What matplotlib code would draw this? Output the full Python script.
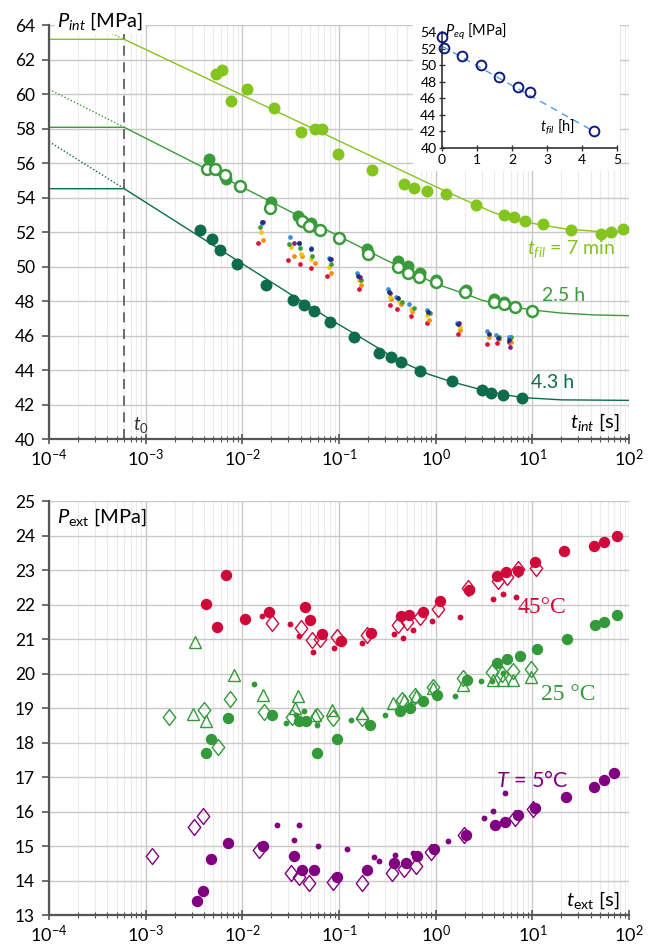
import matplotlib
matplotlib.use("Agg")
import matplotlib.pyplot as plt
from matplotlib.patches import Rectangle
from matplotlib.path import Path
from matplotlib.ticker import LogLocator, NullFormatter, MultipleLocator

plt.rcParams['font.family'] = ['Lato', 'DejaVu Sans']
plt.rcParams['mathtext.fontset'] = 'custom'
plt.rcParams['mathtext.rm'] = 'Lato'
plt.rcParams['mathtext.it'] = 'Lato:italic'
plt.rcParams['mathtext.bf'] = 'Lato:bold'

# ---------------- upper panel: P_int vs t_int ----------------
T0 = 6.0e-4

# model curves (plateau before t0, then decay towards P_eq)
curve_7min_t = [1e-4, T0, 1.0, 2.0, 4.0, 7.0, 12.0, 22.0, 45.0, 100.0]
curve_7min_p = [63.17, 63.17, 54.63, 53.86, 53.12, 52.68, 52.42, 52.18, 52.04, 52.0]
curve_25h_t = [1e-4, T0, 0.3, 1.0, 2.0, 3.0, 5.0, 10.0, 20.0, 45.0, 100.0]
curve_25h_p = [58.07, 58.07, 50.4, 49.0, 48.42, 48.05, 47.75, 47.48, 47.3, 47.19, 47.15]
curve_43h_t = [1e-4, T0, 0.08, 0.15, 0.4, 0.85, 1.5, 3.0, 5.0, 8.0, 20.0, 100.0]
curve_43h_p = [54.51, 54.51, 46.95, 46.05, 44.6, 43.75, 43.3, 42.85, 42.58, 42.4, 42.27, 42.24]
# extrapolation of the initial slope back to 1e-4 s
extrap_p = [65.2, 60.27, 57.24]

g7_t = [0.0053, 0.0061, 0.0076, 0.01125, 0.0212, 0.0402, 0.0561, 0.0667, 0.0984, 0.217,
        0.475, 0.592, 0.813, 1.28, 2.61, 5.12, 6.41, 8.49, 12.8, 25.1, 50.9, 64.6, 86.1]
g7_p = [61.16, 61.39, 59.61, 60.27, 59.17, 57.81, 57.95, 57.95, 56.50, 55.62,
        54.78, 54.57, 54.38, 54.20, 53.57, 52.99, 52.87, 52.65, 52.45, 52.12, 51.88, 52.0, 52.16]

g25_t = [0.00449, 0.00682, 0.01963, 0.0381, 0.0509, 0.197, 0.410, 0.521, 0.681, 1.01, 2.04, 4.06, 5.09]
g25_p = [56.21, 55.07, 53.76, 52.93, 52.50, 51.00, 50.32, 50.03, 49.65, 49.22, 48.64, 48.09, 47.97]
g25_open_t = [0.00426, 0.00518, 0.00667, 0.00936, 0.01954, 0.0411, 0.049, 0.0635, 0.0995, 0.1986,
              0.41, 0.521, 0.678, 1.0, 2.02, 4.03, 5.05, 6.62, 10.0]
g25_open_p = [55.63, 55.63, 55.28, 54.65, 53.40, 52.64, 52.37, 52.09, 51.63, 50.74,
              49.97, 49.65, 49.37, 49.08, 48.50, 47.92, 47.81, 47.65, 47.43]

g43_t = [0.00369, 0.00491, 0.00583, 0.00871, 0.0175, 0.0334, 0.0435, 0.0547, 0.0802, 0.144,
         0.261, 0.345, 0.437, 0.689, 1.47, 2.99, 3.73, 5.01, 7.87]
g43_p = [52.10, 51.58, 50.94, 50.13, 48.94, 48.06, 47.74, 47.40, 46.80, 45.93,
         44.97, 44.78, 44.46, 43.94, 43.36, 42.84, 42.68, 42.55, 42.36]

# individual measurements (small dots)
dot_navy_t = [0.0160, 0.039, 0.0515, 0.080, 0.159, 0.33, 0.405, 0.83, 1.72, 3.56, 4.4, 5.75]
dot_navy_p = [52.56, 51.34, 51.0, 50.43, 49.45, 48.54, 48.19, 47.38, 46.67, 46.09, 45.87, 45.74]
dot_blue_t = [0.0158, 0.0309, 0.0385, 0.0512, 0.079, 0.155, 0.322, 0.393, 0.536, 0.81, 1.66, 3.38, 4.2, 5.78]
dot_blue_p = [52.52, 51.73, 51.38, 51.09, 50.49, 49.61, 48.67, 48.26, 47.81, 47.46, 46.75, 46.24, 46.03, 45.93]
dot_purple_t = [0.0165, 0.0344, 0.083, 0.163, 0.34, 1.75, 5.9]
dot_purple_p = [52.60, 51.38, 50.42, 49.41, 48.45, 46.71, 45.35]
dot_green_t = [0.0154, 0.0306, 0.0392, 0.053, 0.083, 0.17, 0.445, 0.597, 0.87, 4.5, 6.05]
dot_green_p = [52.27, 51.29, 51.07, 50.63, 50.16, 49.23, 47.96, 47.61, 47.30, 45.93, 45.90]
dot_yellow_t = [0.0155, 0.0318, 0.040, 0.0510, 0.079, 0.16, 0.335, 0.42, 0.555, 0.82, 1.78, 3.56, 5.9]
dot_yellow_p = [51.98, 51.13, 50.74, 50.45, 49.95, 49.22, 48.26, 47.99, 47.52, 47.21, 46.51, 46.01, 45.80]
dot_orange_t = [0.0163, 0.0345, 0.0417, 0.0565, 0.083, 0.169, 0.342, 0.44, 0.565, 0.86, 1.78, 3.56, 4.5, 5.95]
dot_orange_p = [51.54, 50.61, 50.61, 50.22, 49.62, 48.91, 48.10, 47.81, 47.42, 46.92, 46.32, 45.91, 45.80, 45.64]
dot_red_t = [0.0146, 0.0294, 0.0392, 0.0510, 0.0752, 0.162, 0.333, 0.396, 0.555, 0.82, 1.72, 3.40, 4.3, 5.8]
dot_red_p = [51.34, 50.39, 50.14, 49.93, 49.45, 48.70, 47.74, 47.52, 47.15, 46.75, 46.10, 45.52, 45.59, 45.64]

# inset: equilibrium pressure vs filling time
peq_t = [0.0, 0.06, 0.58, 1.11, 1.64, 2.17, 2.5, 4.34]
peq_p = [53.35, 52.06, 51.05, 50.05, 48.6, 47.4, 46.8, 42.0]
peq_fit_t = [0.0, 4.34]
peq_fit_p = [52.3, 42.0]

# ---------------- lower panel: P_ext vs t_ext ----------------
red_big_t = [0.00421, 0.00543, 0.00673, 0.01057, 0.0190, 0.0450, 0.0501, 0.0675, 0.105, 0.213, 0.438, 0.533,
             0.734, 1.11, 2.23, 4.34, 5.34, 7.16, 10.6, 21.4, 43.4, 55.5, 75.6]
red_big_p = [22.01, 21.36, 22.86, 21.58, 21.77, 21.92, 21.54, 21.14, 20.94, 21.18, 21.66, 21.71,
             21.79, 22.10, 22.43, 22.82, 22.94, 22.97, 23.23, 23.56, 23.70, 23.81, 24.00]
red_small_t = [0.01595, 0.0308, 0.0388, 0.0534, 0.0887, 0.174, 0.371, 0.456, 0.586, 0.910, 1.79, 3.89, 4.93, 6.73]
red_small_p = [21.66, 21.43, 21.08, 20.63, 20.73, 20.87, 21.14, 21.03, 21.26, 21.53, 21.64, 22.15, 22.29, 22.22]
red_dia_t = [0.0203, 0.0402, 0.053, 0.0636, 0.096, 0.196, 0.410, 0.501, 0.689, 1.06, 2.17, 4.38, 5.43, 7.06, 10.9]
red_dia_p = [21.47, 21.32, 20.98, 20.99, 21.06, 21.11, 21.42, 21.50, 21.64, 21.88, 22.49, 22.68, 22.80, 23.04, 23.07]

green_big_t = [0.00418, 0.00471, 0.00706, 0.0201, 0.0387, 0.0452, 0.0596, 0.0946, 0.209, 0.425, 0.542,
               0.734, 1.03, 2.09, 4.34, 5.43, 7.45, 11.1, 22.6, 44.5, 55.5, 75.6]
green_big_p = [17.70, 18.10, 18.70, 18.80, 18.63, 18.63, 17.70, 18.10, 18.51, 18.91, 19.01,
               19.21, 19.39, 19.81, 20.31, 20.41, 20.50, 20.71, 21.00, 21.40, 21.50, 21.70]
green_small_t = [0.0132, 0.0283, 0.0363, 0.0438, 0.0589, 0.1346, 0.299, 1.585, 2.94, 3.85, 5.01]
green_small_p = [19.69, 18.56, 18.80, 18.92, 18.51, 18.65, 18.80, 19.35, 19.79, 19.78, 20.02]
green_dia_t = [0.00175, 0.00406, 0.00564, 0.00745, 0.01663, 0.0327, 0.0592, 0.0873, 0.174, 0.445, 0.611,
               0.931, 1.905, 3.80, 4.82, 6.35, 9.68]
green_dia_p = [18.75, 18.93, 17.88, 19.25, 18.89, 18.75, 18.78, 18.70, 18.70, 19.23, 19.35,
               19.61, 19.86, 20.05, 20.00, 20.08, 20.12]
green_tri_t = [0.00307, 0.00324, 0.00418, 0.00815, 0.0165, 0.0347, 0.0379, 0.0571, 0.084, 0.173,
               0.359, 0.470, 0.627, 0.931, 1.93, 3.92, 4.93, 6.35, 9.68]
green_tri_p = [18.84, 20.91, 18.62, 19.95, 19.37, 18.99, 19.35, 18.80, 18.94, 18.86,
               19.15, 19.23, 19.35, 19.57, 19.66, 19.81, 19.81, 19.81, 19.90]

purple_big_t = [0.00337, 0.00389, 0.00469, 0.00706, 0.0165, 0.0342, 0.0411, 0.0553, 0.0953, 0.193, 0.372,
                0.49, 0.637, 0.968, 2.06, 4.11, 5.21, 7.06, 10.6, 22.1, 43.4, 55.1, 70.5]
purple_big_p = [13.41, 13.71, 14.61, 15.10, 15.00, 14.71, 14.31, 14.31, 14.11, 14.31, 14.52,
                14.52, 14.71, 14.91, 15.32, 15.61, 15.71, 15.90, 16.11, 16.41, 16.70, 16.91, 17.11]
purple_small_t = [0.0229, 0.0344, 0.0386, 0.0611, 0.121, 0.229, 0.259, 0.381, 0.578, 1.35, 3.14, 3.89, 5.21]
purple_small_p = [15.60, 15.16, 15.60, 15.00, 14.91, 14.68, 14.57, 14.73, 14.81, 15.15, 15.82, 16.02, 16.53]
purple_dia_t = [0.00117, 0.00316, 0.00389, 0.01496, 0.0318, 0.0387, 0.0493, 0.0861, 0.174, 0.352, 0.470,
                0.621, 0.895, 1.98, 6.61, 10.1]
purple_dia_p = [14.71, 15.55, 15.87, 14.87, 14.23, 14.09, 13.94, 13.97, 13.94, 14.21, 14.32,
                14.42, 14.84, 15.32, 15.80, 16.07]

C7 = '#84c41e'
C25 = '#3a9b3a'
C43 = '#0e6b4b'
RED = '#cf0a3a'
GRN = '#33993a'
PUR = '#800080'
AX = '#555555'

# open diamond a bit wider than matplotlib's 'd'
DIAMOND = Path([(0, 1), (0.78, 0), (0, -1), (-0.78, 0), (0, 1)],
               [Path.MOVETO, Path.LINETO, Path.LINETO, Path.LINETO, Path.CLOSEPOLY])


def style_axes(ax, ymin, ymax, ystep):
    ax.set_xscale('log')
    ax.set_xlim(1e-4, 1e2)
    ax.set_ylim(ymin, ymax)
    ax.yaxis.set_major_locator(MultipleLocator(ystep))
    ax.xaxis.set_major_locator(LogLocator(base=10, numticks=10))
    ax.xaxis.set_minor_locator(LogLocator(base=10, subs=range(2, 10), numticks=100))
    ax.xaxis.set_minor_formatter(NullFormatter())
    ax.grid(which='major', color='#c8c8c8', lw=1.0)
    ax.grid(which='minor', axis='x', color='#ebebeb', lw=0.8)
    ax.set_axisbelow(True)
    for s in ('top', 'right'):
        ax.spines[s].set_visible(False)
    for s in ('left', 'bottom'):
        ax.spines[s].set_color(AX)
        ax.spines[s].set_linewidth(1.6)
    ax.tick_params(axis='x', which='major', direction='inout', length=7, width=1.2,
                   color=AX, labelsize=13, pad=3)
    ax.tick_params(axis='x', which='minor', direction='inout', length=4, width=0.8, color=AX)
    ax.tick_params(axis='y', which='major', direction='out', length=5, width=1.2,
                   color=AX, labelsize=12.5, pad=5)


fig = plt.figure(figsize=(6.57, 9.5), dpi=100)

# ---- upper panel ----
ax1 = fig.add_axes([0.07458, 0.53789, 0.88280, 0.43579])
style_axes(ax1, 40, 64, 2)

for ct, cp, col, ext in [(curve_7min_t, curve_7min_p, C7, extrap_p[0]),
                         (curve_25h_t, curve_25h_p, C25, extrap_p[1]),
                         (curve_43h_t, curve_43h_p, C43, extrap_p[2])]:
    ax1.plot(ct, cp, color=col, lw=1.0, zorder=2)
    ax1.plot([1e-4, T0], [ext, cp[1]], color=col, lw=1.0, ls=(0, (1, 1.5)), zorder=2)

ax1.axvline(T0, color=AX, lw=1.2, ls=(0, (6, 4)), zorder=2)

ax1.plot(g7_t, g7_p, 'o', color=C7, ms=8.6, mec='none', zorder=3)
ax1.plot(g25_t, g25_p, 'o', color=C25, ms=8.6, mec='none', zorder=3)
ax1.plot(g25_open_t, g25_open_p, 'o', mfc='white', mec=C25, ms=7.8, mew=1.8, zorder=4)
ax1.plot(g43_t, g43_p, 'o', color=C43, ms=8.6, mec='none', zorder=3)

for dt, dp, col in [(dot_red_t, dot_red_p, '#d7143c'), (dot_orange_t, dot_orange_p, '#ff8a00'),
                    (dot_yellow_t, dot_yellow_p, '#f2c511'), (dot_green_t, dot_green_p, '#3a9b3a'),
                    (dot_purple_t, dot_purple_p, '#8b1a8b'), (dot_blue_t, dot_blue_p, '#3b8fd8'),
                    (dot_navy_t, dot_navy_p, '#1c2f80')]:
    ax1.plot(dt, dp, 'o', color=col, ms=3.4, mec='none', zorder=5)

ax1.text(0.0138, 1.0095, r'$P_{int}$ [MPa]', transform=ax1.transAxes, fontsize=14.5,
         ha='left', va='center', zorder=6, clip_on=False,
         bbox=dict(boxstyle='square,pad=0.12', fc='white', ec='none'))
ax1.text(8.8, 51.0, r'$t_{fil}$ = 7 min', color=C7, fontsize=14, ha='left', va='center')
ax1.text(12.6, 48.3, '2.5 h', color=C25, fontsize=14, ha='left', va='center')
ax1.text(9.7, 43.25, '4.3 h', color=C43, fontsize=14, ha='left', va='center')
ax1.text(80.7, 41.0, r'$t_{int}$ [s]', fontsize=14.5, ha='right', va='center')
ax1.text(7.4e-4, 40.8, r'$t_0$', fontsize=13.5, color='#333333', ha='left', va='center')

# white backing for the inset
fig.patches.append(Rectangle((0.6286, 0.82), 0.3151, 0.1558, transform=fig.transFigure,
                             fc='white', ec='none', zorder=1))

ax_in = fig.add_axes([0.6728, 0.8442, 0.2664, 0.1221], zorder=2)
ax_in.set_facecolor('none')
ax_in.set_xlim(0, 5)
ax_in.set_ylim(40, 54)
ax_in.set_xticks(range(0, 6))
ax_in.set_yticks(range(40, 55, 2))
for s in ('top', 'right'):
    ax_in.spines[s].set_visible(False)
for s in ('left', 'bottom'):
    ax_in.spines[s].set_color('#333333')
    ax_in.spines[s].set_linewidth(1.2)
ax_in.tick_params(direction='inout', length=5, width=1.0, color='#333333', labelsize=10, pad=1.5)
ax_in.plot(peq_fit_t, peq_fit_p, color='#4a9ee2', lw=1.0, ls=(0, (5, 4)), zorder=2)
ax_in.plot(peq_t, peq_p, 'o', mfc='none', mec='#101a80', ms=7, mew=1.4, zorder=3, clip_on=False)
ax_in.text(0.08, 54.0, r'$P_{eq}$ [MPa]', fontsize=10.5, ha='left', va='center')
ax_in.text(3.8, 42.6, r'$t_{fil}$ [h]', fontsize=10.5, ha='right', va='center')

# ---- lower panel ----
ax2 = fig.add_axes([0.07458, 0.03684, 0.88280, 0.43579])
style_axes(ax2, 13, 25, 1)

ax2.plot(green_dia_t, green_dia_p, marker=DIAMOND, ls='none', mfc='none', mec=GRN, ms=11.5, mew=1.0, zorder=3)
ax2.plot(green_tri_t, green_tri_p, '^', mfc='none', mec=GRN, ms=8.2, mew=1.0, zorder=3)
ax2.plot(green_big_t, green_big_p, 'o', color=GRN, ms=8.2, mec='none', zorder=4)
ax2.plot(green_small_t, green_small_p, 'o', color=GRN, ms=4.2, mec='none', zorder=4)

ax2.plot(red_dia_t, red_dia_p, marker=DIAMOND, ls='none', mfc='none', mec=RED, ms=11.5, mew=1.0, zorder=3)
ax2.plot(red_big_t, red_big_p, 'o', color=RED, ms=8.2, mec='none', zorder=4)
ax2.plot(red_small_t, red_small_p, 'o', color=RED, ms=4.2, mec='none', zorder=4)

ax2.plot(purple_dia_t, purple_dia_p, marker=DIAMOND, ls='none', mfc='none', mec=PUR, ms=11.5, mew=1.0, zorder=3)
ax2.plot(purple_big_t, purple_big_p, 'o', color=PUR, ms=8.2, mec='none', zorder=4)
ax2.plot(purple_small_t, purple_small_p, 'o', color=PUR, ms=4.2, mec='none', zorder=4)

ax2.text(1.21e-4, 24.53, r'$P_{\mathrm{ext}}$ [MPa]', fontsize=14.5, ha='left', va='center')
ax2.text(7.1, 21.92, '45°C', color=RED, fontsize=17, family=['Liberation Serif', 'DejaVu Serif'],
         ha='left', va='center')
ax2.text(12.3, 19.40, '25 °C', color=GRN, fontsize=17, family=['Liberation Serif', 'DejaVu Serif'],
         ha='left', va='center')
ax2.text(4.2, 16.91, r'$T$ = 5°C', color=PUR, fontsize=15.5, ha='left', va='center')
ax2.text(80.7, 13.43, r'$t_{\mathrm{ext}}$ [s]', fontsize=14.5, ha='right', va='center')

fig.savefig('out.png', dpi=100)
